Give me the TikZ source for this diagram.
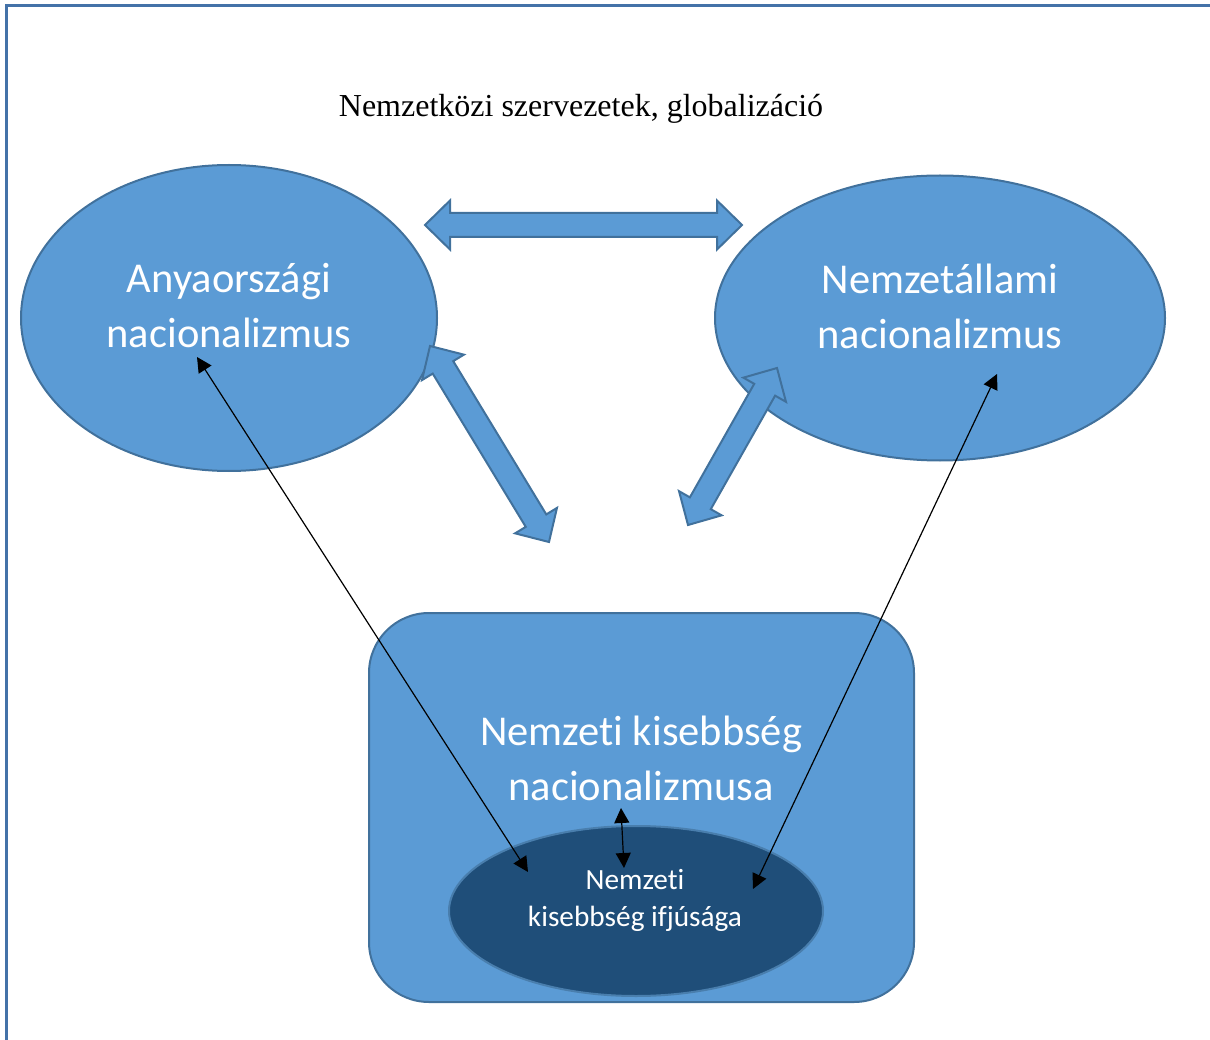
\documentclass[tikz,border=0pt]{standalone}
\usepackage{fontspec}
\setmainfont{Liberation Serif}
\newfontfamily\calibri[Ligatures=NoCommon]{Carlito}
\usetikzlibrary{calc,positioning,shapes.geometric,arrows.meta}

\definecolor{lightblue}{RGB}{91,155,213}
\definecolor{edgeblue}{RGB}{65,113,156}
\definecolor{deepblue}{RGB}{31,78,121}
\definecolor{frameblue}{RGB}{68,114,168}

% fat double arrow between two points (head 25, half head 24.5, half shaft 12)
\newcommand{\fatarrow}[2]{%
  \draw[fat arrow] (#1)
    -- ($(#1)!25pt!(#2)!24.5pt!90:(#2)$) -- ($(#1)!25pt!(#2)!12pt!90:(#2)$)
    -- ($(#2)!25pt!(#1)!12pt!-90:(#1)$) -- ($(#2)!25pt!(#1)!24.5pt!-90:(#1)$)
    -- (#2)
    -- ($(#2)!25pt!(#1)!24.5pt!90:(#1)$) -- ($(#2)!25pt!(#1)!12pt!90:(#1)$)
    -- ($(#1)!25pt!(#2)!12pt!-90:(#2)$) -- ($(#1)!25pt!(#2)!24.5pt!-90:(#2)$)
    -- cycle;}

\begin{document}
\begin{tikzpicture}
    \tikzset{x=1pt,y=-1pt,every path/.style={>={Triangle[length=15pt,width=15pt]}},
      blob/.style={ellipse,draw=edgeblue,fill=lightblue,line width=2,inner sep=0},
      fat arrow/.style={draw=edgeblue,fill=lightblue,line width=2,line join=miter},
      big text/.style={text=white,align=center,font=\calibri\fontsize{42.5}{55}\selectfont},
      small text/.style={text=white,align=center,font=\calibri\fontsize{29.3}{37}\selectfont},
      thin/.style={line width=1.2,<->}}
    \useasboundingbox (0,0) rectangle (1210,1040);
    \draw[frameblue,line width=3] (6,1040) -- (6,6) -- (1210,6);
    \node [font=\fontsize{32}{38}\selectfont] (title) at (581,109) {Nemzetközi szervezetek, globalizáció};
    % the two nationalisms
    \node [blob,minimum width=416,minimum height=306] (anya) at (229,318) {};
    \node [blob,minimum width=450,minimum height=285] (allam) at (940,318) {};
    \node [big text] (anya-txt) at (229,306) {Anyaországi\\nacionalizmus};
    \node [big text] (allam-txt) at (940,306) {Nemzetállami\\nacionalizmus};
    \coordinate (t1) at (425,225);
    \coordinate (t2) at (742,225);
    \coordinate (l1) at (430,346);
    \coordinate (l2) at (549,542);
    \coordinate (r1) at (777,368);
    \coordinate (r2) at (688,525);
    \fatarrow{t1}{t2}
    \fatarrow{l1}{l2}
    \fatarrow{r1}{r2}
    % minority
    \node [draw=edgeblue,fill=lightblue,line width=2,rounded corners=60,inner sep=0,
           minimum width=545,minimum height=389] (kis) at (641.5,807.5) {};
    \node [big text] (kis-txt) at (641,758) {Nemzeti kisebbség\\nacionalizmusa};
    \node [ellipse,draw=edgeblue!70!lightblue,fill=deepblue,line width=2,inner sep=0,
           minimum width=374,minimum height=170] (ifju) at (636,911) {};
    \node [small text] (ifju-txt) at (635,900) {Nemzeti\\kisebbség ifjúsága};
    \coordinate (a1) at (197,357);
    \coordinate (a2) at (528,872);
    \coordinate (n1) at (997,374);
    \coordinate (n2) at (753,889);
    \coordinate (k1) at (621,808);
    \coordinate (k2) at (624,868);
    \draw[thin] (a1) -- (a2);
    \draw[thin] (n1) -- (n2);
    \draw[thin] (k1) -- (k2);
\end{tikzpicture}
\end{document}
